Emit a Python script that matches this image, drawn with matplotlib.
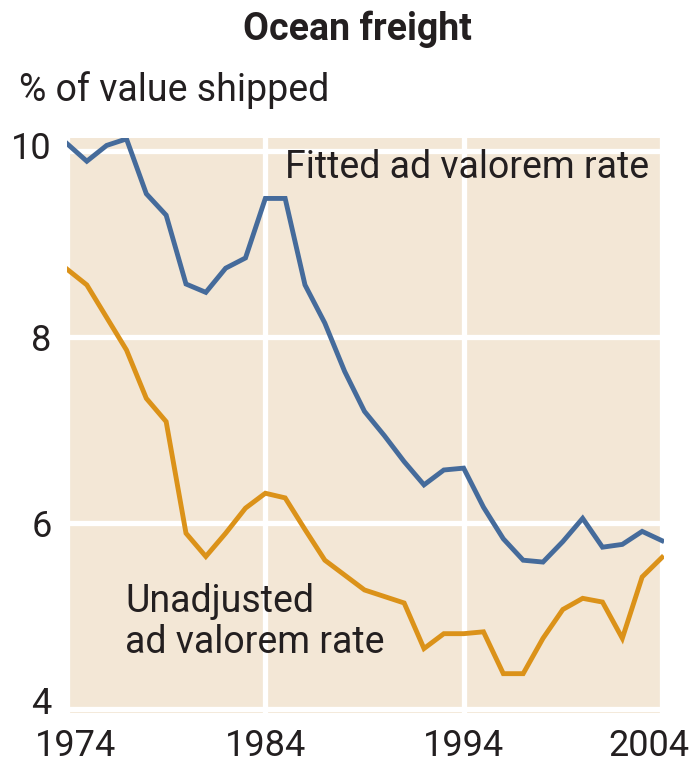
import matplotlib
matplotlib.use('Agg')
import matplotlib.pyplot as plt
import matplotlib.transforms as mtransforms

# Data (% of value shipped)
years = list(range(1974, 2005))
fitted = [10.08, 9.89, 10.06, 10.13, 9.54, 9.31, 8.57, 8.48, 8.74, 8.85,
          9.49, 9.49, 8.56, 8.15, 7.63, 7.20, 6.94, 6.66, 6.41, 6.57,
          6.59, 6.17, 5.83, 5.60, 5.58, 5.80, 6.05, 5.74, 5.77, 5.91, 5.81]
unadjusted = [8.73, 8.56, 8.21, 7.86, 7.34, 7.09, 5.89, 5.64, 5.89, 6.16,
              6.32, 6.27, 5.93, 5.60, 5.44, 5.28, 5.21, 5.14, 4.65, 4.81,
              4.81, 4.83, 4.38, 4.38, 4.76, 5.07, 5.19, 5.15, 4.76, 5.42, 5.63]
xticks = [1974, 1984, 1994, 2004]
yticks = [4, 6, 8, 10]

plt.rcParams['font.family'] = ['Roboto', 'DejaVu Sans']

blue = '#456b9b'
orange = '#db9219'
bg = '#f3e7d6'
ink = '#231f20'

fig = plt.figure(figsize=(6.92, 7.67), dpi=100)
ax = fig.add_axes([0.0968, 0.0704, 0.8627, 0.7497])
ax.set_facecolor(bg)

ax.plot(years, fitted, color=blue, lw=3.5, solid_joinstyle='miter', zorder=3)
ax.plot(years, unadjusted, color=orange, lw=3.5, solid_joinstyle='miter', zorder=3)

ax.set_xlim(1974, 2004.1)
ax.set_ylim(3.957, 10.14)
ax.set_xticks(xticks)
ax.set_yticks(yticks)
ax.grid(True, color='white', lw=3.8, zorder=1)
ax.set_axisbelow(True)
for s in ax.spines.values():
    s.set_visible(False)
ax.tick_params(length=0, labelsize=26, colors=ink)
ax.tick_params(axis='x', pad=11)
ax.tick_params(axis='y', pad=11)

# nudge a few labels like the original
def nudge(lbl, dx, dy):
    lbl.set_transform(lbl.get_transform() +
                      mtransforms.ScaledTranslation(dx / 100, dy / 100, fig.dpi_scale_trans))

xlabels = ax.get_xticklabels()
nudge(xlabels[0], 9, 0)
nudge(xlabels[-1], -13, 0)
ylabels = ax.get_yticklabels()
nudge(ylabels[0], 0, 9)
nudge(ylabels[-1], 0, 6)

ax.text(0.365, 0.948, 'Fitted ad valorem rate', transform=ax.transAxes,
        fontsize=27, color=ink, ha='left', va='center')
ax.text(0.097, 0.158, 'Unadjusted\nad valorem rate', transform=ax.transAxes,
        fontsize=27, color=ink, ha='left', va='center', linespacing=1.12)

fig.text(0.517, 0.962, 'Ocean freight', fontsize=27, fontweight='bold',
         color=ink, ha='center', va='center')
fig.text(0.028, 0.882, '% of value shipped', fontsize=27,
         color=ink, ha='left', va='center')

fig.savefig('out.png', dpi=100, facecolor='white')
